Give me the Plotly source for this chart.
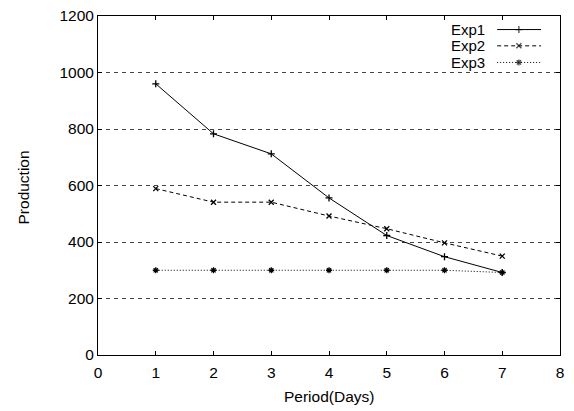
import plotly.graph_objects as go

days = [1, 2, 3, 4, 5, 6, 7]
exp1 = [960, 783, 712, 556, 423, 348, 292]
exp2 = [589, 541, 541, 492, 447, 397, 350]
exp3 = [300, 300, 300, 300, 300, 300, 292]
series_names = ["Exp1", "Exp2", "Exp3"]
x_ticks = [0, 1, 2, 3, 4, 5, 6, 7, 8]
y_ticks = [0, 200, 400, 600, 800, 1000, 1200]
x_title = "Period(Days)"
y_title = "Production"

FONT = "Liberation Sans, Arial, Helvetica, sans-serif"
styles = [
    dict(dash="solid", symbol="cross-thin", size=5),
    dict(dash="4px,3px", symbol="x-thin", size=5),
    dict(dash="1px,2px", symbol="asterisk", size=5),
]

fig = go.Figure()
for name, ys, st in zip(series_names, [exp1, exp2, exp3], styles):
    fig.add_trace(go.Scatter(
        x=days, y=ys, name=name, mode="lines+markers",
        line=dict(color="black", width=1, dash=st["dash"]),
        marker=dict(symbol=st["symbol"], size=st["size"], color="black",
                    line=dict(color="black", width=1.3)),
        showlegend=False,
    ))

# custom legend (text left of the sample, gnuplot style)
legend_rows = [0.960, 0.912, 0.863]
for name, st, yr in zip(series_names, styles, legend_rows):
    fig.add_trace(go.Scatter(
        x=[0.864, 0.911, 0.959], y=[yr, yr, yr], xaxis="x2", yaxis="y2",
        mode="lines+markers", showlegend=False, hoverinfo="skip",
        line=dict(color="black", width=1, dash=st["dash"]),
        marker=dict(symbol=st["symbol"], size=[0, st["size"], 0], color="black",
                    line=dict(color="black", width=1.3)),
    ))
    fig.add_annotation(x=0.841, y=yr, xref="paper", yref="paper", text=name,
                       showarrow=False, xanchor="right", yanchor="middle",
                       font=dict(family=FONT, size=15, color="black"))

# axis titles
fig.add_annotation(x=0.5, y=-0.1214, xref="paper", yref="paper", text=x_title,
                   showarrow=False, xanchor="center", yanchor="middle",
                   font=dict(family=FONT, size=15.5, color="black"))
fig.add_annotation(x=-0.1617, y=0.495, xref="paper", yref="paper", text=y_title,
                   showarrow=False, xanchor="center", yanchor="middle", textangle=-90,
                   font=dict(family=FONT, size=15.5, color="black"))

axis_common = dict(
    showline=True, linecolor="black", linewidth=1, mirror="ticks",
    ticks="inside", ticklen=4, tickcolor="black", tickwidth=1,
    tickfont=dict(family=FONT, size=15.5, color="black"),
    zeroline=False, automargin=False,
)
fig.update_layout(
    width=574, height=411,
    margin=dict(l=98, r=14, t=16, b=55.5, autoexpand=False),
    paper_bgcolor="white", plot_bgcolor="white",
    font=dict(family=FONT, size=15.5, color="black"),
    xaxis=dict(range=[0, 8], tickvals=x_ticks, showgrid=False,
               ticklabelstandoff=3, **axis_common),
    yaxis=dict(range=[0, 1200], tickvals=y_ticks, showgrid=True,
               gridcolor="#444444", gridwidth=1, griddash="4px,4px",
               **axis_common),
    xaxis2=dict(overlaying="x", range=[0, 1], visible=False),
    yaxis2=dict(overlaying="y", range=[0, 1], visible=False),
    showlegend=False,
)

# remove the default 8px page margin so the figure fills the window exactly
fig.write_html("out.html", config={"displayModeBar": False},
               post_script="document.body.style.margin='0';")
